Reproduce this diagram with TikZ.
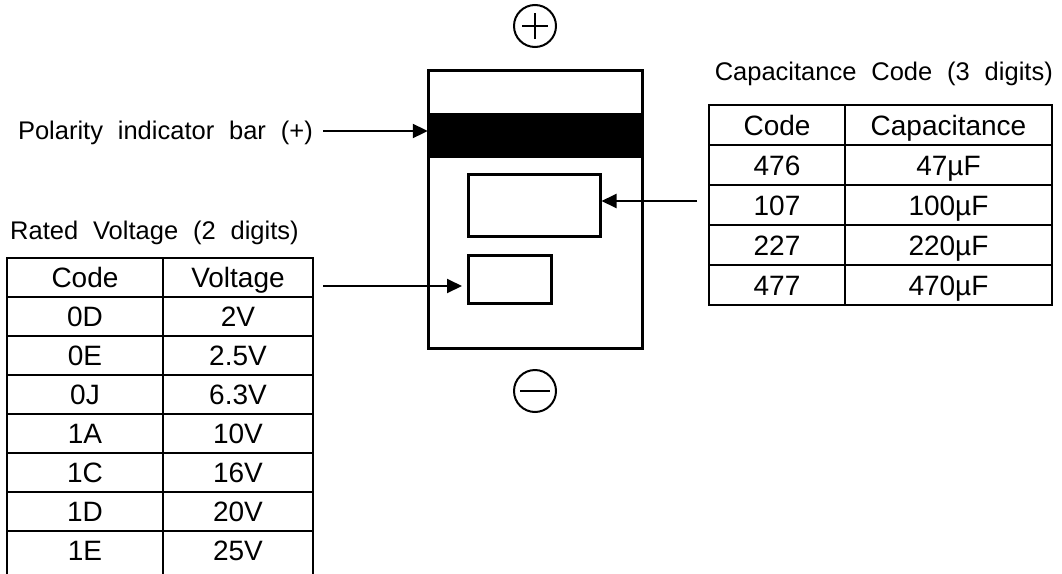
\documentclass[tikz,border=0pt]{standalone}
\usepackage{fontspec}
\setmainfont{Liberation Sans}
\newfontfamily\labelfont{Liberation Sans}[WordSpace=2.1]
\usetikzlibrary{arrows.meta, calc}

\begin{document}
\begin{tikzpicture}[x=1pt, y=-1pt, >={Triangle[length=15pt, width=14pt]},
    part/.style={draw, line width=3pt, inner sep=0pt},
    pin/.style={->, line width=2pt},
    rule/.style={line width=2pt},
    cell/.style={font=\fontsize{28}{32}\selectfont, inner sep=0pt, anchor=base},
    caption/.style={font=\labelfont\fontsize{25.5}{30}\selectfont, inner sep=0pt}]
        \useasboundingbox (0,0) rectangle (1062,573);

        % capacitor body seen from above
        \node[part, minimum width=214pt, minimum height=278pt] (body) at (535,209) {};
        \node[fill=black, inner sep=0pt, minimum width=214pt, minimum height=45pt] (bar) at (535,135.5) {};
        \node[part, minimum width=132pt, minimum height=62pt] (ccode) at (534,205) {};
        \node[part, minimum width=83pt, minimum height=48pt] (vcode) at (509.5,279) {};

        % polarity marks
        \node[circle, draw, line width=2pt, minimum size=42pt, inner sep=0pt] (plus) at (535,26) {};
        \draw[line width=2pt] ([xshift=-13pt]plus.center) -- ([xshift=13pt]plus.center)
            ([yshift=-13pt]plus.center) -- ([yshift=13pt]plus.center);
        \node[circle, draw, line width=2pt, minimum size=42pt, inner sep=0pt] (minus) at (535,391) {};
        \draw[line width=2pt] ([xshift=-15pt]minus.center) -- ([xshift=15pt]minus.center);

        % captions
        \node[caption, anchor=base east] (pol) at (313,139) {Polarity indicator bar (+)};
        \node[caption, anchor=base west] (vtitle) at (10,239) {Rated Voltage (2 digits)};
        \node[caption, anchor=base east] (ctitle) at (1053,80) {Capacitance Code (3 digits)};

        % rated voltage table
        \foreach \code/\volt [count=\i from 0] in {Code/Voltage, 0D/2V, 0E/2.5V, 0J/6.3V, 1A/10V, 1C/16V, 1D/20V, 1E/25V} {
            \node[cell] (v\i-code) at (85,287.5+39*\i) {\code};
            \node[cell] (v\i-volt) at (238,287.5+39*\i) {\volt};
        }
        \foreach \k in {0,...,7}
            \draw[rule] (7,258+39*\k) -- (313,258+39*\k);
        \foreach \x in {7,163,313}
            \draw[rule] (\x,257) -- (\x,580);

        % capacitance table
        \foreach \code/\cap [count=\i from 0] in {Code/Capacitance, 476/47µF, 107/100µF, 227/220µF, 477/470µF} {
            \node[cell] (c\i-code) at (777,135+40*\i) {\code};
            \node[cell] (c\i-cap) at (948.5,135+40*\i) {\cap};
        }
        \foreach \k in {0,...,5}
            \draw[rule] (709,105+40*\k) -- (1052,105+40*\k);
        \foreach \x in {709,845,1052}
            \draw[rule] (\x,104) -- (\x,306);

        % pointers
        \coordinate (pol-tail) at (323,131);
        \draw[pin] (pol-tail) -- (pol-tail -| bar.west);
        \coordinate (volt-tail) at (323,286);
        \coordinate (volt-tip) at (462,286);
        \draw[pin] (volt-tail) -- (volt-tip);
        \coordinate (cap-tail) at (697,201);
        \draw[pin] (cap-tail) -- (cap-tail -| ccode.east);
    \end{tikzpicture}
\end{document}
